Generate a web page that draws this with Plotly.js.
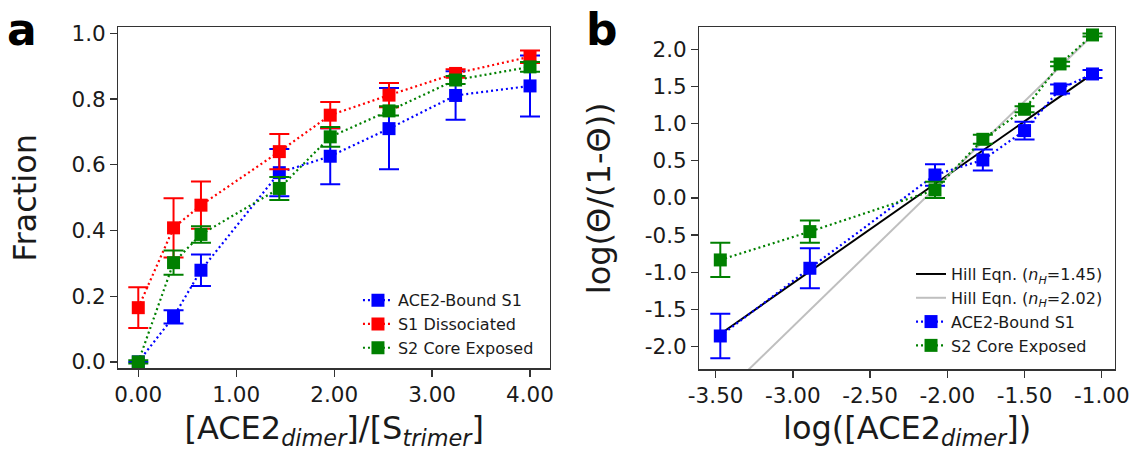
<!DOCTYPE html>
<html>
<head>
<meta charset="utf-8">
<script src="https://cdn.plot.ly/plotly-3.0.1.min.js"></script>
<style>html,body{margin:0;padding:0;background:#fff;}#chart{width:1131px;height:451px;}</style>
</head>
<body>
<div id="chart"></div>
<script>
// ---------- Panel a data ----------
const ratioX = [0, 0.36, 0.64, 1.44, 1.96, 2.56, 3.24, 4.0];
const boundS1 = [0, 0.137, 0.279, 0.576, 0.626, 0.710, 0.811, 0.840];
const boundS1Err = [0, 0.020, 0.048, 0.072, 0.085, 0.124, 0.074, 0.093];
const dissocS1 = [0.165, 0.408, 0.477, 0.640, 0.751, 0.812, 0.878, 0.929];
const dissocS1Err = [0.062, 0.090, 0.072, 0.054, 0.040, 0.037, 0.013, 0.019];
const coreS2 = [0, 0.302, 0.388, 0.528, 0.685, 0.764, 0.858, 0.898];
const coreS2Err = [0.005, 0.037, 0.025, 0.035, 0.030, 0.014, 0.012, 0.015];
const aXTickVals = [0, 1, 2, 3, 4];
const aXTickText = ["0.00", "1.00", "2.00", "3.00", "4.00"];
const aYTickVals = [0, 0.2, 0.4, 0.6, 0.8, 1.0];
const aYTickText = ["0.0", "0.2", "0.4", "0.6", "0.8", "1.0"];

// ---------- Panel b data ----------
const logConc = [-3.47, -2.89, -2.08, -1.77, -1.50, -1.27, -1.06];
const hillBound = [-1.857, -0.946, 0.309, 0.511, 0.906, 1.466, 1.668];
const hillBoundErr = [0.30, 0.27, 0.145, 0.14, 0.12, 0.06, 0.055];
const hillCore = [-0.834, -0.453, 0.108, 0.789, 1.193, 1.803, 2.193];
const hillCoreErr = [0.23, 0.15, 0.11, 0.06, 0.04, 0.03, 0.02];
const fitX = [-3.47, -1.06];
const fit145 = [-1.83, 1.67];
const fit202 = [-2.68, 2.19];
const bXTickVals = [-3.5, -3.0, -2.5, -2.0, -1.5, -1.0];
const bXTickText = ["-3.50", "-3.00", "-2.50", "-2.00", "-1.50", "-1.00"];
const bYTickVals = [-2, -1.5, -1, -0.5, 0, 0.5, 1, 1.5, 2];
const bYTickText = ["-2.0", "-1.5", "-1.0", "-0.5", "0.0", "0.5", "1.0", "1.5", "2.0"];

const FONT = "DejaVu Sans, Liberation Sans, sans-serif";
const DOT = "2px,3px";

function errSeries(x, y, err, name, color, xa, ya, legend, group) {
  return {
    type: "scatter", mode: "lines+markers", x: x, y: y, name: name,
    xaxis: xa, yaxis: ya, legend: legend, legendgroup: group,
    line: {color: color, width: 2.2, dash: DOT},
    marker: {symbol: "square", size: 13, color: color},
    error_y: {type: "data", array: err, visible: true, color: color, thickness: 2, width: 10},
    cliponaxis: false
  };
}

const traces = [
  errSeries(ratioX, boundS1, boundS1Err, "ACE2-Bound S1", "#0000ff", "x", "y", "legend", "a1"),
  errSeries(ratioX, dissocS1, dissocS1Err, "S1 Dissociated", "#ff0000", "x", "y", "legend", "a2"),
  errSeries(ratioX, coreS2, coreS2Err, "S2 Core Exposed", "#008000", "x", "y", "legend", "a3"),
  {type: "scatter", mode: "lines", x: fitX, y: fit145, name: "Hill Eqn. (<i>n</i><sub><i>H</i></sub>=1.45)",
   xaxis: "x2", yaxis: "y2", legend: "legend2", legendgroup: "b1",
   line: {color: "#000000", width: 2}},
  {type: "scatter", mode: "lines", x: fitX, y: fit202, name: "Hill Eqn. (<i>n</i><sub><i>H</i></sub>=2.02)",
   xaxis: "x2", yaxis: "y2", legend: "legend2", legendgroup: "b2",
   line: {color: "#bfbfbf", width: 2}},
  errSeries(logConc, hillBound, hillBoundErr, "ACE2-Bound S1", "#0000ff", "x2", "y2", "legend2", "b3"),
  errSeries(logConc, hillCore, hillCoreErr, "S2 Core Exposed", "#008000", "x2", "y2", "legend2", "b4")
];

const axisCommon = {
  showgrid: false, zeroline: false, showline: true, mirror: true,
  linecolor: "#333333", linewidth: 1.3,
  ticks: "outside", ticklen: 7, tickwidth: 1.3, tickcolor: "#333333",
  tickfont: {family: FONT, size: 21.5, color: "#1a1a1a"},
  automargin: false
};
const TITLEFONT = {family: FONT, size: 32, color: "#1a1a1a"};

const layout = {
  width: 1131, height: 451,
  margin: {l: 0, r: 0, t: 0, b: 0},
  paper_bgcolor: "#ffffff", plot_bgcolor: "#ffffff",
  font: {family: FONT, color: "#1a1a1a"},
  showlegend: true,
  xaxis: Object.assign({}, axisCommon, {
    domain: [0.1046, 0.4863], range: [-0.204, 4.204], anchor: "y",
    tickmode: "array", tickvals: aXTickVals, ticktext: aXTickText,
    title: {text: "[ACE2<sub><i>dimer</i></sub>]/[S<sub><i>trimer</i></sub>]", font: TITLEFONT, standoff: 18}
  }),
  yaxis: Object.assign({}, axisCommon, {
    domain: [0.1834, 0.9395], range: [-0.0195, 1.0185], anchor: "x",
    tickmode: "array", tickvals: aYTickVals, ticktext: aYTickText,
    title: {text: "Fraction", font: TITLEFONT, standoff: 25}
  }),
  xaxis2: Object.assign({}, axisCommon, {
    domain: [0.6183, 0.9859], range: [-3.606, -0.914], anchor: "y2",
    tickmode: "array", tickvals: bXTickVals, ticktext: bXTickText,
    title: {text: "log([ACE2<sub><i>dimer</i></sub>])", font: TITLEFONT, standoff: 18}
  }),
  yaxis2: Object.assign({}, axisCommon, {
    domain: [0.1812, 0.9395], range: [-2.305, 2.296], anchor: "x2",
    tickmode: "array", tickvals: bYTickVals, ticktext: bYTickText,
    title: {text: "log(Θ/(1-Θ))", font: TITLEFONT, standoff: 24}
  }),
  legend: {
    x: 0.3165, y: 0.372, xanchor: "left", yanchor: "top",
    bgcolor: "rgba(0,0,0,0)", borderwidth: 0,
    font: {family: FONT, size: 16, color: "#1a1a1a"},
    traceorder: "grouped", tracegroupgap: 0
  },
  legend2: {
    x: 0.8055, y: 0.43, xanchor: "left", yanchor: "top",
    bgcolor: "rgba(0,0,0,0)", borderwidth: 0,
    font: {family: FONT, size: 16, color: "#1a1a1a"},
    traceorder: "grouped", tracegroupgap: 0
  },
  annotations: [
    {text: "<b>a</b>", xref: "paper", yref: "paper", x: 0.004, y: 0.9335, xanchor: "left", yanchor: "middle",
     showarrow: false, font: {family: FONT, size: 44, color: "#000000"}},
    {text: "<b>b</b>", xref: "paper", yref: "paper", x: 0.516, y: 0.9335, xanchor: "left", yanchor: "middle",
     showarrow: false, font: {family: FONT, size: 44, color: "#000000"}}
  ]
};

Plotly.newPlot("chart", traces, layout, {displayModeBar: false, staticPlot: true});
</script>
</body>
</html>
